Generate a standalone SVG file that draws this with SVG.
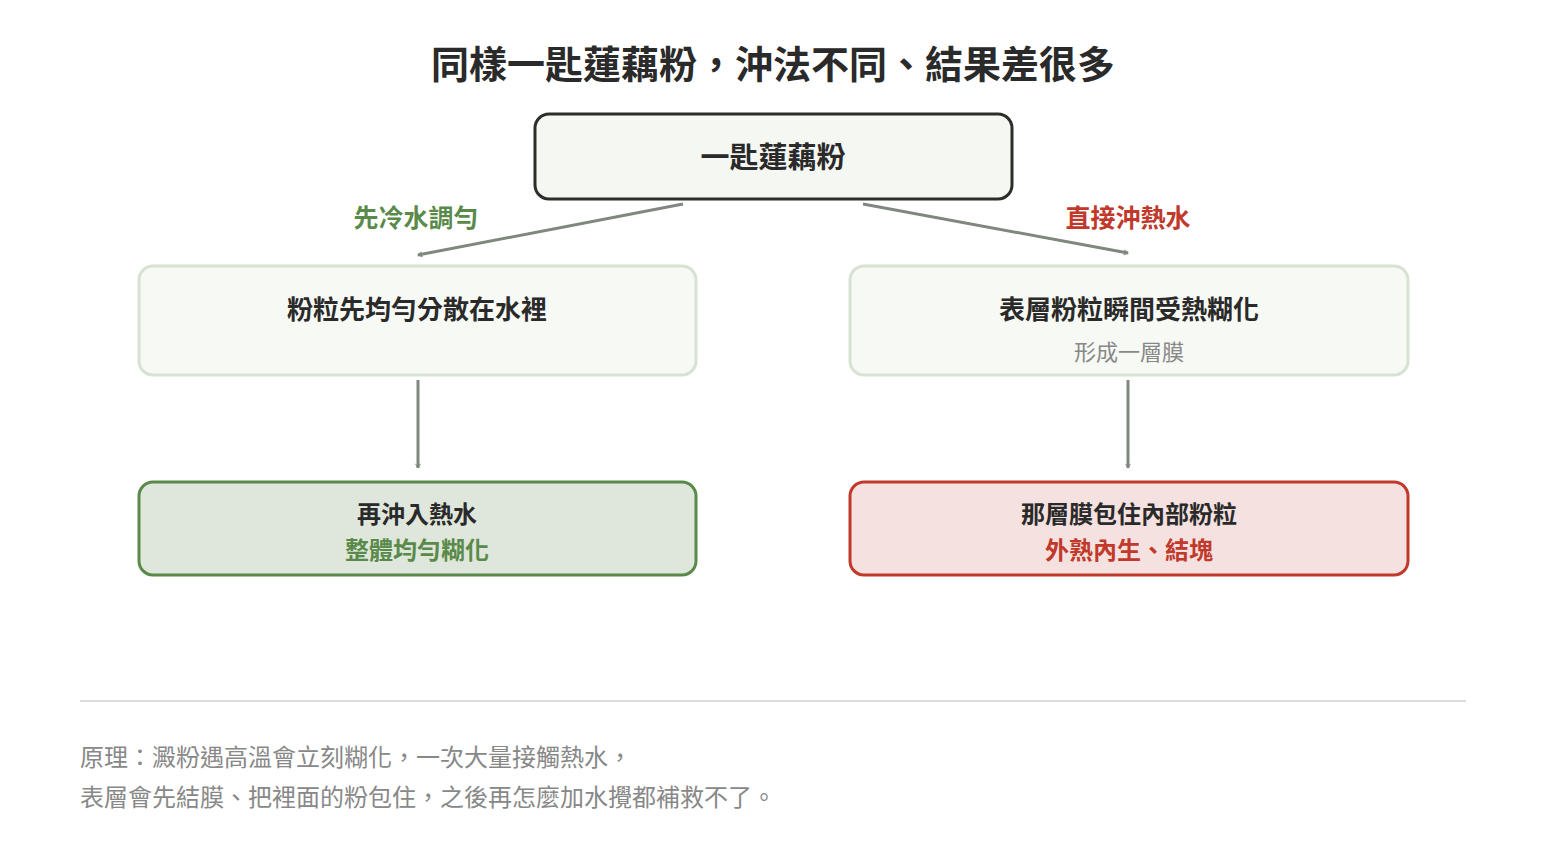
<svg xmlns="http://www.w3.org/2000/svg" width="1546" height="860" viewBox="0 0 1546 860">
<style>
text{font-family:"Noto Sans CJK TC","Noto Sans CJK SC",sans-serif;text-anchor:middle}
.b{font-weight:700}
.dk{fill:#2a2a2a}
.g{fill:#5a8a4a}
.r{fill:#c0392b}
.gr{fill:#888}
.con{stroke:#7f877f;stroke-width:3;fill:none;marker-end:url(#ah)}
</style>
<defs><marker id="ah" viewBox="0 0 12 12" refX="10" refY="6" markerWidth="5" markerHeight="5" orient="auto" markerUnits="userSpaceOnUse" style="overflow:visible"><path d="M0,0 L10,6 L0,12" fill="none" stroke="#7f877f" stroke-width="2.4"/></marker></defs>
<rect width="1546" height="860" fill="#fff"/>
<text x="773" y="78" class="b dk" font-size="38">同樣一匙蓮藕粉，沖法不同、結果差很多</text>
<g id="top"><rect x="535" y="114" width="477" height="85" rx="14" fill="#f5f7f2" stroke="#2a2f2a" stroke-width="3"/><text x="773" y="168" class="b dk" font-size="29">一匙蓮藕粉</text></g>
<g id="midL"><rect x="139" y="266" width="557" height="109" rx="14" fill="#f7f9f4" stroke="#d8e2d2" stroke-width="3"/><text x="417" y="319" class="b dk" font-size="26">粉粒先均勻分散在水裡</text></g>
<g id="midR"><rect x="850" y="266" width="558" height="109" rx="14" fill="#f7f9f4" stroke="#d8e2d2" stroke-width="3"/><text x="1129" y="319" class="b dk" font-size="26">表層粉粒瞬間受熱糊化</text><text x="1129" y="360" class="gr" font-size="22">形成一層膜</text></g>
<g id="botL"><rect x="139" y="482" width="557" height="93" rx="14" fill="#dfe7dc" stroke="#5a8a4a" stroke-width="3"/><text x="417" y="523" class="b dk" font-size="24">再沖入熱水</text><text x="417" y="559" class="b g" font-size="24">整體均勻糊化</text></g>
<g id="botR"><rect x="850" y="482" width="558" height="93" rx="14" fill="#f5e1e0" stroke="#c0392b" stroke-width="3"/><text x="1129" y="523" class="b dk" font-size="24">那層膜包住內部粉粒</text><text x="1129" y="559" class="b r" font-size="24">外熟內生、結塊</text></g>
<g id="connectors">
<line x1="683" y1="204" x2="418" y2="255" class="con"/>
<line x1="863" y1="204" x2="1128" y2="253" class="con"/>
<line x1="418" y1="380" x2="418" y2="468" class="con"/>
<line x1="1128" y1="380" x2="1128" y2="468" class="con"/>
<text x="416" y="227" class="b g" font-size="25">先冷水調勻</text>
<text x="1128" y="227" class="b r" font-size="25">直接沖熱水</text>
</g>
<line x1="80" y1="701" x2="1466" y2="701" stroke="#dcdcdc" stroke-width="2"/>
<text x="80" y="766" class="gr" font-size="24" style="text-anchor:start">原理：澱粉遇高溫會立刻糊化，一次大量接觸熱水，</text>
<text x="80" y="806" class="gr" font-size="24" style="text-anchor:start">表層會先結膜、把裡面的粉包住，之後再怎麼加水攪都補救不了。</text>
</svg>
